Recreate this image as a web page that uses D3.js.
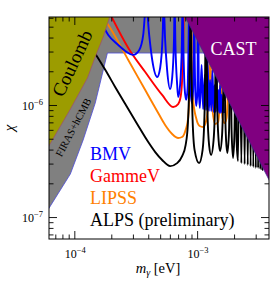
<!DOCTYPE html>
<html>
<head>
<meta charset="utf-8">
<script src="https://cdn.jsdelivr.net/npm/d3@7"></script>
<style>
  body { margin: 0; background: #fff; }
  text { font-family: "Liberation Serif", "Times New Roman", serif; }
</style>
</head>
<body>
<svg width="274" height="283"></svg>
<script>
/* global d3 */

const width = 274,
    height = 283,
    margin = ({ top: 17, right: 5, bottom: 44, left: 49 });

// axis limits
const xLim = [6.22e-5, 3.85e-3],
    yLim = [6.37e-8, 6.1e-6];

const xMajor = [1e-4, 1e-3],
    xMinor = [7e-5, 8e-5, 9e-5, 2e-4, 3e-4, 4e-4, 5e-4, 6e-4, 7e-4, 8e-4, 9e-4, 2e-3, 3e-3],
    yMajor = [1e-7, 1e-6],
    yMinor = [7e-8, 8e-8, 9e-8, 2e-7, 3e-7, 4e-7, 5e-7, 6e-7, 7e-7, 8e-7, 9e-7,
              2e-6, 3e-6, 4e-6, 5e-6, 6e-6];

// excluded regions  [m (eV), chi]
const coulomb = [
  [5e-5, 8e-6], [2.1e-4, 8e-6], [1.72e-4, 4.05e-6], [1.48e-4, 2.68e-6],
  [1.28e-4, 1.74e-6], [9.3e-5, 9.2e-7], [5.8e-5, 3.8e-7], [5e-5, 3.8e-7]
];
const firas = [
  [5e-5, 8e-6], [1.3e-3, 8e-6], [1.3e-3, 2.91e-6], [1.86e-4, 2.91e-6],
  [1.48e-4, 1.04e-6], [1.18e-4, 4.87e-7], [9.28e-5, 2.42e-7], [6.22e-5, 1.2e-7],
  [5.8e-5, 1.05e-7], [5e-5, 1.05e-7]
];
const cast = [
  [7.05e-4, 8e-6], [4.15e-3, 1.83e-7], [4.5e-3, 1.83e-7], [4.5e-3, 8e-6]
];

// sensitivity curves
const bmv = [
  [1.75e-4, 4.87e-6], [1.89e-4, 4.22e-6], [2.28e-4, 3.43e-6], [2.60e-4, 3.03e-6],
  [3.02e-4, 2.80e-6], [3.38e-4, 3.10e-6], [3.64e-4, 4.22e-6], [3.85e-4, 8e-6],
  [4.07e-4, 4.22e-6], [4.31e-4, 2.52e-6], [4.73e-4, 1.78e-6], [5.00e-4, 2.14e-6],
  [5.24e-4, 4.22e-6], [5.34e-4, 8e-6], [5.49e-4, 3.81e-6], [5.70e-4, 2.05e-6],
  [6.03e-4, 1.39e-6], [6.26e-4, 1.74e-6], [6.48e-4, 3.81e-6], [6.56e-4, 8e-6],
  [6.66e-4, 3.43e-6], [6.88e-4, 1.51e-6], [7.01e-4, 1.18e-6], [7.27e-4, 1.51e-6],
  [7.51e-4, 3.43e-6], [7.61e-4, 8e-6], [7.77e-4, 2.52e-6], [7.91e-4, 1.42e-6],
  [8.14e-4, 1.11e-6], [8.37e-4, 1.42e-6], [8.53e-4, 3.81e-6], [8.61e-4, 8e-6],
  [8.71e-4, 3.10e-6], [8.85e-4, 1.36e-6], [9.06e-4, 1.04e-6], [9.28e-4, 1.36e-6],
  [9.38e-4, 3.10e-6], [9.45e-4, 8e-6], [9.54e-4, 3.10e-6], [9.69e-4, 1.23e-6],
  [9.85e-4, 9.8e-7], [1.006e-3, 1.36e-6], [1.019e-3, 8e-6], [1.032e-3, 1.36e-6],
  [1.054e-3, 9.4e-7], [1.088e-3, 2.28e-6], [1.119e-3, 9.2e-7], [1.155e-3, 1.85e-6],
  [1.184e-3, 9.0e-7], [1.217e-3, 2.52e-6], [1.247e-3, 8.84e-7], [1.276e-3, 1.67e-6],
  [1.304e-3, 8.84e-7], [1.334e-3, 2.05e-6], [1.362e-3, 8.66e-7], [1.388e-3, 1.51e-6],
  [1.414e-3, 8.66e-7], [1.441e-3, 1.85e-6], [1.465e-3, 8.66e-7], [1.49e-3, 1.36e-6],
  [1.515e-3, 8.48e-7], [1.538e-3, 1.51e-6], [1.561e-3, 8.48e-7], [1.588e-3, 1.23e-6],
  [1.612e-3, 8.48e-7], [1.633e-3, 1.11e-6], [1.658e-3, 8.48e-7]
];
const gammev = [
  [2.0e-4, 6.2e-6], [2.75e-4, 3.23e-6], [3.78e-4, 1.97e-6], [5.19e-4, 1.23e-6],
  [6.38e-4, 9.6e-7], [7.01e-4, 1.02e-6], [7.34e-4, 1.18e-6], [7.55e-4, 1.67e-6],
  [7.69e-4, 3.10e-6], [7.81e-4, 8e-6]
];
const lipss = [
  [1.82e-4, 5.51e-6], [1.96e-4, 4.87e-6], [2.75e-4, 2.52e-6], [3.78e-4, 1.36e-6],
  [4.82e-4, 8.48e-7], [5.49e-4, 6.63e-7], [6.26e-4, 5.51e-7], [7.01e-4, 5.07e-7],
  [7.55e-4, 5.18e-7], [8.06e-4, 5.98e-7], [8.45e-4, 7.65e-7], [8.69e-4, 1.36e-6],
  [8.85e-4, 3.81e-6], [8.94e-4, 8e-6], [9.06e-4, 2.52e-6], [9.28e-4, 1.11e-6],
  [9.82e-4, 7.65e-7], [1.048e-3, 6.49e-7], [1.119e-3, 6.36e-7], [1.184e-3, 7.2e-7],
  [1.241e-3, 1.11e-6], [1.264e-3, 3.81e-6], [1.276e-3, 8e-6], [1.29e-3, 2.52e-6],
  [1.324e-3, 1.0e-6], [1.401e-3, 6.77e-7], [1.482e-3, 7.05e-7], [1.53e-3, 1.11e-6],
  [1.553e-3, 8e-6], [1.576e-3, 1.11e-6], [1.612e-3, 7.65e-7], [1.673e-3, 6.9e-7],
  [1.737e-3, 7.65e-7], [1.77e-3, 1.11e-6], [1.787e-3, 8e-6]
];
const alps = [
  [1.45e-4, 2.97e-6], [1.54e-4, 2.68e-6], [1.79e-4, 2.05e-6], [2.15e-4, 1.45e-6],
  [2.60e-4, 1.02e-6], [3.25e-4, 6.77e-7], [4.00e-4, 4.67e-7], [4.56e-4, 3.80e-7],
  [5.19e-4, 3.23e-7], [6.03e-4, 2.85e-7], [6.88e-4, 3.03e-7], [7.55e-4, 3.50e-7],
  [8.06e-4, 4.39e-7], [8.40e-4, 6.63e-7], [8.61e-4, 1.36e-6], [8.77e-4, 3.81e-6],
  [8.85e-4, 8e-6], [8.97e-4, 2.52e-6], [9.19e-4, 7.35e-7], [9.54e-4, 3.96e-7],
  [1.038e-3, 3.03e-7], [1.108e-3, 3.96e-7], [1.151e-3, 9.02e-7], [1.184e-3, 8e-6],
  [1.213e-3, 9.02e-7], [1.252e-3, 4.39e-7], [1.300e-3, 3.58e-7], [1.362e-3, 4.87e-7],
  [1.401e-3, 1.11e-6], [1.427e-3, 8e-6], [1.454e-3, 1.11e-6], [1.496e-3, 4.87e-7],
  [1.538e-3, 3.88e-7], [1.597e-3, 5.40e-7], [1.633e-3, 1.36e-6], [1.658e-3, 8e-6],
  [1.683e-3, 1.36e-6], [1.721e-3, 4.87e-7], [1.763e-3, 3.73e-7], [1.821e-3, 5.98e-7],
  [1.865e-3, 8e-6], [1.908e-3, 5.98e-7], [1.962e-3, 3.36e-7], [2.018e-3, 5.98e-7],
  [2.056e-3, 8e-6], [2.095e-3, 4.87e-7], [2.154e-3, 3.16e-7], [2.216e-3, 8e-6],
  [2.292e-3, 3.03e-7], [2.366e-3, 8e-6], [2.438e-3, 2.97e-7], [2.512e-3, 8e-6],
  [2.584e-3, 2.91e-7], [2.657e-3, 8e-6], [2.728e-3, 2.85e-7], [2.801e-3, 8e-6],
  [2.869e-3, 2.80e-7], [2.94e-3, 8e-6], [3.006e-3, 2.74e-7], [3.074e-3, 8e-6],
  [3.138e-3, 2.74e-7], [3.204e-3, 8e-6], [3.27e-3, 2.68e-7], [3.338e-3, 8e-6],
  [3.401e-3, 2.63e-7], [3.465e-3, 8e-6]
];

const legendNames = ["BMV", "GammeV", "LIPSS", "ALPS (preliminary)"],
    legendColors = ["#0000ff", "#ff0000", "#ff8000", "#000000"];

const x = d3.scaleLog().domain(xLim).range([margin.left, width - margin.right]);
const y = d3.scaleLog().domain(yLim).range([height - margin.bottom, margin.top]);

const svg = d3.select("svg");

svg.append("clipPath").attr("id", "plot")
  .append("rect")
  .attr("x", margin.left).attr("y", margin.top)
  .attr("width", x.range()[1] - x.range()[0])
  .attr("height", y.range()[0] - y.range()[1]);

const plot = svg.append("g").attr("clip-path", "url(#plot)");

const area = d3.line().x(d => x(d[0])).y(d => y(d[1]));
const curve = d3.line().x(d => x(d[0])).y(d => y(d[1])).curve(d3.curveMonotoneX);

plot.append("path")
  .attr("d", area(firas) + "Z")
  .attr("fill", "#808080")
  .attr("stroke", "#4a4ad8")
  .attr("stroke-width", 0.8);

// curves, drawn back to front
const series = [
  { data: lipss, color: "#ff8000" },
  { data: gammev, color: "#ff0000" },
  { data: bmv, color: "#0000ff" },
  { data: alps, color: "#000000" }
];

plot.selectAll(".curve")
  .data(series)
  .join("path")
  .attr("class", "curve")
  .attr("d", d => curve(d.data))
  .attr("fill", "none")
  .attr("stroke", d => d.color)
  .attr("stroke-width", 1.9)
  .attr("stroke-linejoin", "round");

plot.append("path")
  .attr("d", area(coulomb) + "Z")
  .attr("fill", "#9c9c00")
  .attr("stroke", "#a04a70")
  .attr("stroke-width", 0.7);

plot.append("path")
  .attr("d", area(cast) + "Z")
  .attr("fill", "#800080")
  .attr("stroke", "#3a2a90")
  .attr("stroke-width", 0.7);

// region labels
svg.append("text")
  .attr("transform", "translate(78,66) rotate(-65)")
  .attr("text-anchor", "middle")
  .attr("font-size", 19)
  .text("Coulomb");

svg.append("text")
  .attr("transform", "translate(76.5,129) rotate(-62)")
  .attr("text-anchor", "middle")
  .attr("font-size", 10.5)
  .text("FIRAS+hCMB");

svg.append("text")
  .attr("x", 233.5).attr("y", 55)
  .attr("text-anchor", "middle")
  .attr("font-size", 18)
  .attr("fill", "#fff")
  .text("CAST");

// legend
svg.append("g")
  .selectAll("text")
  .data(legendNames)
  .join("text")
  .attr("x", 90)
  .attr("y", (d, i) => 159.5 + i * 22)
  .attr("font-size", 18)
  .attr("fill", (d, i) => legendColors[i])
  .text(d => d);

// frame
svg.append("rect")
  .attr("x", margin.left).attr("y", margin.top)
  .attr("width", x.range()[1] - x.range()[0])
  .attr("height", y.range()[0] - y.range()[1])
  .attr("fill", "none")
  .attr("stroke", "#000")
  .attr("stroke-width", 1);

// inward ticks on all four sides
function ticks(axis, vals, len, transform) {
  const g = svg.append("g")
    .attr("transform", transform)
    .call(axis.tickValues(vals).tickSize(-len).tickFormat(""));
  g.select(".domain").remove();
  g.selectAll("line").attr("stroke-width", 0.9);
}
const atBottom = `translate(0,${y.range()[0]})`,
    atTop = `translate(0,${y.range()[1]})`,
    atLeft = `translate(${x.range()[0]},0)`,
    atRight = `translate(${x.range()[1]},0)`;

ticks(d3.axisBottom(x), xMajor, 8, atBottom);
ticks(d3.axisBottom(x), xMinor, 4.5, atBottom);
ticks(d3.axisTop(x), xMajor, 8, atTop);
ticks(d3.axisTop(x), xMinor, 4.5, atTop);
ticks(d3.axisLeft(y), yMajor, 8, atLeft);
ticks(d3.axisLeft(y), yMinor, 4.5, atLeft);
ticks(d3.axisRight(y), yMajor, 8, atRight);
ticks(d3.axisRight(y), yMinor, 4.5, atRight);

// tick labels
function power(sel) {
  sel.append("tspan").text("10");
  sel.append("tspan")
    .attr("dy", -5)
    .attr("font-size", 8.5)
    .text(d => "\u2212" + Math.round(-Math.log10(d)));
}

svg.append("g")
  .selectAll("text")
  .data(xMajor)
  .join("text")
  .attr("x", d => x(d) + 1)
  .attr("y", 258)
  .attr("text-anchor", "middle")
  .attr("font-size", 12)
  .call(power);

svg.append("g")
  .selectAll("text")
  .data(yMajor)
  .join("text")
  .attr("x", 43)
  .attr("y", d => y(d) + 5)
  .attr("text-anchor", "end")
  .attr("font-size", 12)
  .call(power);

// axis titles
const xt = svg.append("text")
  .attr("x", 158).attr("y", 273)
  .attr("text-anchor", "middle")
  .attr("font-size", 14.5);
xt.append("tspan").attr("font-style", "italic").text("m");
xt.append("tspan").attr("font-style", "italic").attr("font-size", 10).attr("dy", 3).text("\u03b3");
xt.append("tspan").attr("dy", -3).text(" [eV]");

svg.append("text")
  .attr("transform", "translate(14,128) rotate(-90)")
  .attr("text-anchor", "middle")
  .attr("font-size", 15)
  .attr("font-style", "italic")
  .text("\u03c7");
</script>
</body>
</html>
